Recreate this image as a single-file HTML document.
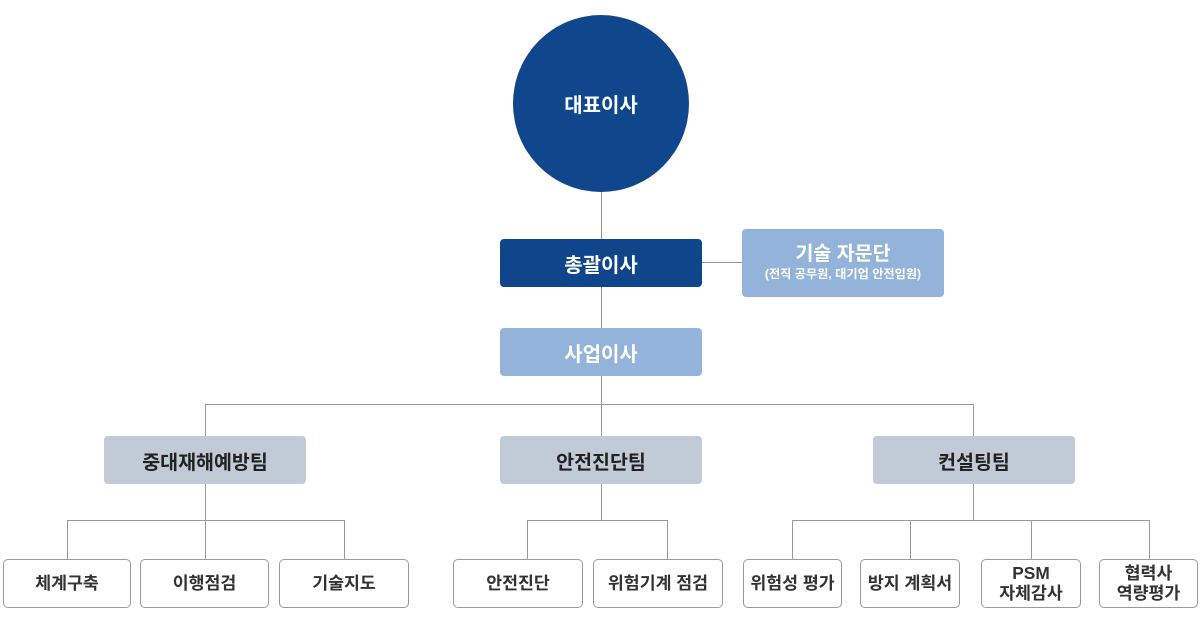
<!DOCTYPE html>
<html>
<head>
<meta charset="utf-8">
<style>
  html,body{margin:0;padding:0;background:#fff;}
  body{width:1200px;height:628px;position:relative;overflow:hidden;
    font-family:"Liberation Sans","Noto Sans CJK KR",sans-serif;}
  .b{position:absolute;box-sizing:border-box;display:flex;align-items:center;justify-content:center;text-align:center;}
  .circle{left:513px;top:15px;width:176px;height:177px;border-radius:50%;background:#0f468c;color:#fff;font-weight:700;font-size:20px;}
  .dark{background:#0e458b;color:#fff;border-radius:4px;font-weight:700;font-size:20px;}
  .light{background:#94b3da;color:#fff;border-radius:4px;font-weight:700;font-size:20px;}
  .team{background:#c1cad7;color:#222;border-radius:4px;font-weight:700;font-size:19.5px;}
  .leaf{background:#fff;border:1px solid #9a9a9a;border-radius:5px;color:#333;font-weight:700;font-size:17.3px;line-height:19.5px;}
  svg{position:absolute;left:0;top:0;}
</style>
</head>
<body>
<svg width="1200" height="628" viewBox="0 0 1200 628">
  <g stroke="#999" stroke-width="1" fill="none" shape-rendering="crispEdges">
    <line x1="601.5" y1="190" x2="601.5" y2="239"/>
    <line x1="702" y1="262.5" x2="742" y2="262.5"/>
    <line x1="601.5" y1="287" x2="601.5" y2="328"/>
    <line x1="601.5" y1="376" x2="601.5" y2="436"/>
    <line x1="205.5" y1="404.5" x2="973.5" y2="404.5"/>
    <line x1="205.5" y1="404" x2="205.5" y2="436"/>
    <line x1="973.5" y1="404" x2="973.5" y2="436"/>
    <!-- left team -->
    <line x1="205.5" y1="484" x2="205.5" y2="559"/>
    <line x1="67.5" y1="520.5" x2="344.5" y2="520.5"/>
    <line x1="67.5" y1="520" x2="67.5" y2="559"/>
    <line x1="344.5" y1="520" x2="344.5" y2="559"/>
    <!-- middle team -->
    <line x1="601.5" y1="484" x2="601.5" y2="520"/>
    <line x1="527.5" y1="520.5" x2="667.5" y2="520.5"/>
    <line x1="527.5" y1="520" x2="527.5" y2="559"/>
    <line x1="667.5" y1="520" x2="667.5" y2="559"/>
    <!-- right team -->
    <line x1="973.5" y1="484" x2="973.5" y2="520"/>
    <line x1="792.5" y1="520.5" x2="1149.5" y2="520.5"/>
    <line x1="792.5" y1="520" x2="792.5" y2="559"/>
    <line x1="910.5" y1="520" x2="910.5" y2="559"/>
    <line x1="1031.5" y1="520" x2="1031.5" y2="559"/>
    <line x1="1149.5" y1="520" x2="1149.5" y2="559"/>
  </g>
</svg>

<div class="b circle">대표이사</div>

<div class="b dark" style="left:500px;top:239px;width:202px;height:48px;">총괄이사</div>

<div class="b light" style="left:742px;top:229px;width:202px;height:68px;flex-direction:column;">
  <div style="font-size:19.5px;line-height:21px;margin-top:0px;">기술 자문단</div>
  <div style="font-size:12.2px;font-weight:700;line-height:16px;margin-top:1px;">(전직 공무원, 대기업 안전임원)</div>
</div>

<div class="b light" style="left:500px;top:328px;width:202px;height:48px;">사업이사</div>

<div class="b team" style="left:104px;top:436px;width:202px;height:48px;">중대재해예방팀</div>
<div class="b team" style="left:500px;top:436px;width:202px;height:48px;">안전진단팀</div>
<div class="b team" style="left:873px;top:436px;width:202px;height:48px;">컨설팅팀</div>

<div class="b leaf" style="left:3px;top:559px;width:128px;height:49px;">체계구축</div>
<div class="b leaf" style="left:140px;top:559px;width:129px;height:49px;">이행점검</div>
<div class="b leaf" style="left:279px;top:559px;width:130px;height:49px;">기술지도</div>

<div class="b leaf" style="left:453px;top:559px;width:130px;height:49px;">안전진단</div>
<div class="b leaf" style="left:593px;top:559px;width:130px;height:49px;">위험기계 점검</div>

<div class="b leaf" style="left:743px;top:559px;width:99px;height:49px;">위험성 평가</div>
<div class="b leaf" style="left:860px;top:559px;width:100px;height:49px;">방지 계획서</div>
<div class="b leaf" style="left:981px;top:559px;width:100px;height:49px;">PSM<br>자체감사</div>
<div class="b leaf" style="left:1099px;top:559px;width:99px;height:49px;">협력사<br>역량평가</div>
</body>
</html>
